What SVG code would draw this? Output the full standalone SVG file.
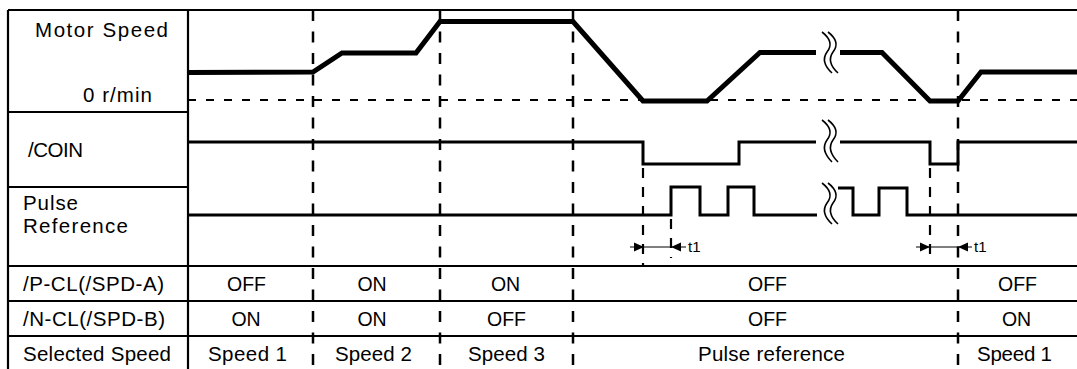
<svg xmlns="http://www.w3.org/2000/svg" width="1077" height="369" viewBox="0 0 1077 369">
<style>
text{font-family:"Liberation Sans",Arial,sans-serif;font-size:20.5px;fill:#000}
.c{text-anchor:middle}
.v{font-size:19.5px}
.t1{font-size:15px}
.grid{stroke:#000;stroke-width:2.2;fill:none}
.major{stroke:#000;stroke-width:2.5;stroke-dasharray:11 10.5;fill:none}
.minor{stroke:#000;stroke-width:2.2;stroke-dasharray:10 9;fill:none}
.zero{stroke:#000;stroke-width:2;stroke-dasharray:8 10;fill:none}
.speed{stroke:#000;stroke-width:5;fill:none;stroke-linejoin:miter}
.sig{stroke:#000;stroke-width:3;fill:none;stroke-linejoin:miter}
.brk{stroke:#000;stroke-width:1.6;fill:none}
.dim{stroke:#000;stroke-width:1;fill:none}
</style>
<rect width="1077" height="369" fill="#fff"/>
<g id="table">
<path class="grid" d="M8 10H1077M8 112H188M8 187H188M8 266H1077M8 301H1077M8 336H1077M8 10V369M188 10V369"/>
</g>
<g id="labels">
<g id="label-motor"><text x="35" y="37" textLength="133">Motor Speed</text><text x="83" y="102" textLength="69">0 r/min</text></g>
<g id="label-coin"><text x="28" y="157" textLength="55">/COIN</text></g>
<g id="label-pulse"><text x="23" y="210" textLength="55">Pulse</text><text x="23" y="233" textLength="105">Reference</text></g>
<g id="label-pcl"><text x="23" y="291" textLength="141">/P-CL(/SPD-A)</text></g>
<g id="label-ncl"><text x="23" y="326" textLength="142">/N-CL(/SPD-B)</text></g>
<g id="label-sel"><text x="23" y="361" textLength="148">Selected Speed</text></g>
</g>
<g id="connectors">
<path class="zero" d="M188 100H1077"/>
<path class="major" d="M313 10V369M440 10V369M573 10V369M958 10V369"/>
<path class="minor" d="M643 168V266M671 219V258M930 168V258"/>
</g>
<g id="motor-speed">
<path class="speed" d="M188 72.5L313 72L342 53L416 53L440 21.5L573 21.5L643 101L707 101L760 52.5L816 52.5"/>
<path class="speed" d="M840 52.5L882 52.5L930 101L958 101L981 72L1077 72"/>
<path class="brk" d="M822 32Q835 42 827 52Q820 62 832 73M828 32Q841 42 833 52Q826 62 838 73"/>
</g>
<g id="coin">
<path class="sig" d="M188 142H643V164H739V142H816"/>
<path class="sig" d="M840 142H930V164H958V142H1077"/>
<path class="brk" d="M822 120Q835 130 827 140Q820 150 832 162M828 120Q841 130 833 140Q826 150 838 162"/>
</g>
<g id="pulse">
<path class="sig" d="M188 215H671V187H700V215H728V187H754V215H817"/>
<path class="sig" d="M838 188H853V215H879V188H907V215H1077"/>
<path class="brk" d="M822 183Q835 193 827 203Q820 213 832 224M828 183Q841 193 833 203Q826 213 838 224"/>
</g>
<g id="t1-a">
<path class="dim" d="M630 247H686"/>
<polygon points="634,242.5 644,247 634,251.5"/>
<polygon points="681,242.5 671,247 681,251.5"/>
<text class="t1" x="688" y="252">t1</text>
</g>
<g id="t1-b">
<path class="dim" d="M916 247H972"/>
<polygon points="920,242.5 930,247 920,251.5"/>
<polygon points="968,242.5 958,247 968,251.5"/>
<text class="t1" x="974" y="252">t1</text>
</g>
<g id="values">
<text class="c v" x="246.5" y="291">OFF</text>
<text class="c v" x="372" y="291">ON</text>
<text class="c v" x="505.5" y="291">ON</text>
<text class="c v" x="767.5" y="291">OFF</text>
<text class="c v" x="1017.5" y="291">OFF</text>
<text class="c v" x="246" y="326">ON</text>
<text class="c v" x="372" y="326">ON</text>
<text class="c v" x="506.5" y="326">OFF</text>
<text class="c v" x="767.5" y="326">OFF</text>
<text class="c v" x="1016.5" y="326">ON</text>
<text class="c" x="247.5" y="361" textLength="79">Speed 1</text>
<text class="c" x="373.5" y="361" textLength="77">Speed 2</text>
<text class="c" x="506.5" y="361" textLength="77">Speed 3</text>
<text class="c" x="771.5" y="361" textLength="147">Pulse reference</text>
<text class="c" x="1014.5" y="361" textLength="75">Speed 1</text>
</g>
</svg>
